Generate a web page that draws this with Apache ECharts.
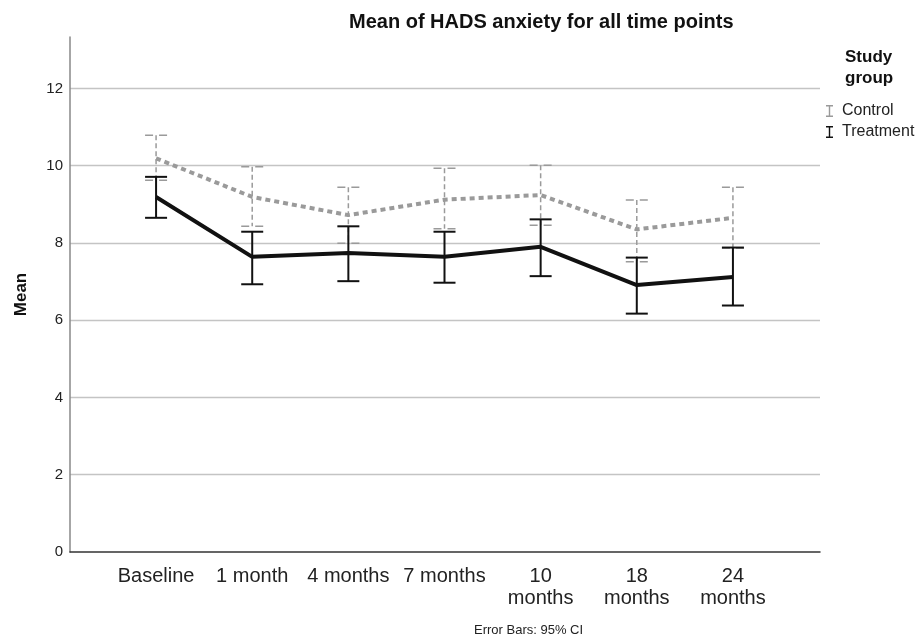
<!DOCTYPE html>
<html>
<head>
<meta charset="utf-8">
<script src="https://cdn.jsdelivr.net/npm/echarts@6/dist/echarts.min.js"></script>
<style>html,body{margin:0;padding:0;background:#fff}#c{width:921px;height:639px}</style>
</head>
<body>
<div id="c"></div>
<script>
var categories = ['Baseline', '1 month', '4 months', '7 months', '10\nmonths', '18\nmonths', '24\nmonths'];
var controlMean = [10.19, 9.19, 8.72, 9.12, 9.24, 8.35, 8.65];
var controlLow  = [9.62, 8.43, 7.99, 8.37, 8.46, 7.51, 7.87];
var controlHigh = [10.79, 9.97, 9.44, 9.93, 10.01, 9.11, 9.44];
var treatMean = [9.19, 7.64, 7.74, 7.64, 7.90, 6.91, 7.12];
var treatLow  = [8.65, 6.93, 7.01, 6.97, 7.14, 6.17, 6.38];
var treatHigh = [9.71, 8.29, 8.43, 8.29, 8.61, 7.62, 7.88];
var yMin = 0, yMax = 13.33, yStep = 2;

var FONT = 'Liberation Sans, Arial, sans-serif';
var GREY = '#9a9a9a';

function errData(low, high) {
  return categories.map(function (c, i) { return [i, low[i], high[i]]; });
}
function errRender(color, width, dashed) {
  return function (params, api) {
    var x = api.value(0);
    var lo = api.coord([x, api.value(1)]);
    var hi = api.coord([x, api.value(2)]);
    var hw = 11;
    var style = { stroke: color, lineWidth: width, lineDash: dashed ? [5, 3] : null };
    var capStyle = { stroke: color, lineWidth: width, lineDash: dashed ? [8, 6] : null };
    return {
      type: 'group',
      children: [
        { type: 'line', shape: { x1: hi[0], y1: hi[1], x2: lo[0], y2: lo[1] }, style: style },
        { type: 'line', shape: { x1: hi[0] - hw, y1: hi[1], x2: hi[0] + hw, y2: hi[1] }, style: capStyle },
        { type: 'line', shape: { x1: lo[0] - hw, y1: lo[1], x2: lo[0] + hw, y2: lo[1] }, style: capStyle }
      ]
    };
  };
}

var iBeam = 'path://M0,0 H7 V1.6 H4.2 V10.4 H7 V12 H0 V10.4 H2.8 V1.6 H0 Z';

var chart = echarts.init(document.getElementById('c'), null, { renderer: 'canvas' });
chart.setOption({
  animation: false,
  backgroundColor: '#fff',
  title: [
    { text: 'Mean of HADS anxiety for all time points', left: 344, top: 7,
      textStyle: { fontFamily: FONT, fontSize: 20, fontWeight: 'bold', color: '#111' } },
    { text: 'Study\ngroup', left: 840, top: 42,
      textStyle: { fontFamily: FONT, fontSize: 17, fontWeight: 'bold', color: '#111', lineHeight: 21 } },
    { text: 'Error Bars: 95% CI', left: 469, top: 619,
      textStyle: { fontFamily: FONT, fontSize: 13, fontWeight: 'normal', color: '#222' } }
  ],
  legend: {
    orient: 'vertical', left: 826, top: 103, padding: 0,
    itemWidth: 7, itemHeight: 12, itemGap: 5,
    textStyle: { fontFamily: FONT, fontSize: 16, color: '#222', padding: [0, 0, 0, 4] },
    data: [
      { name: 'Control', icon: iBeam, itemStyle: { color: GREY } },
      { name: 'Treatment', icon: iBeam, itemStyle: { color: '#111' } }
    ]
  },
  grid: [
    { left: 70, right: 101, top: 37, bottom: 87 },
    { left: 108, right: 140, top: 37, bottom: 87 }
  ],
  xAxis: [
    { type: 'value', gridIndex: 0, min: 0, max: 1,
      axisLine: { show: true, lineStyle: { color: '#333', width: 1.5 } },
      axisTick: { show: false }, axisLabel: { show: false }, splitLine: { show: false } },
    { type: 'category', gridIndex: 1, data: categories, boundaryGap: true,
      axisLine: { show: false }, axisTick: { show: false }, splitLine: { show: false },
      axisLabel: { fontFamily: FONT, fontSize: 20, color: '#222', margin: 13, lineHeight: 22, interval: 0 } }
  ],
  yAxis: [
    { type: 'value', gridIndex: 0, min: yMin, max: yMax, interval: yStep,
      name: 'Mean', nameLocation: 'middle', nameGap: 40, nameRotate: 90,
      nameTextStyle: { fontFamily: FONT, fontSize: 17, fontWeight: 'bold', color: '#111' },
      axisLine: { show: true, lineStyle: { color: '#888', width: 1.5 } },
      axisTick: { show: false },
      axisLabel: { fontFamily: FONT, fontSize: 15, color: '#222', margin: 7, showMaxLabel: false },
      splitLine: { show: true, showMinLine: false, showMaxLine: false, lineStyle: { color: '#c4c4c4', width: 1.3 } } },
    { type: 'value', gridIndex: 1, min: yMin, max: yMax, interval: yStep, show: false,
      splitLine: { show: false } }
  ],
  series: [
    { name: 'Control', type: 'line', xAxisIndex: 1, yAxisIndex: 1, data: controlMean,
      symbol: 'none', z: 2,
      lineStyle: { color: GREY, width: 4, type: [5, 4], cap: 'butt' }, itemStyle: { color: GREY } },
    { name: 'Control', type: 'custom', xAxisIndex: 1, yAxisIndex: 1, data: errData(controlLow, controlHigh),
      renderItem: errRender(GREY, 1.5, true), z: 3, itemStyle: { color: GREY } },
    { name: 'Treatment', type: 'custom', xAxisIndex: 1, yAxisIndex: 1, data: errData(treatLow, treatHigh),
      renderItem: errRender('#111', 2, false), z: 4, itemStyle: { color: '#111' } },
    { name: 'Treatment', type: 'line', xAxisIndex: 1, yAxisIndex: 1, data: treatMean,
      symbol: 'none', z: 5,
      lineStyle: { color: '#111', width: 4 }, itemStyle: { color: '#111' } }
  ]
});
</script>
</body>
</html>
